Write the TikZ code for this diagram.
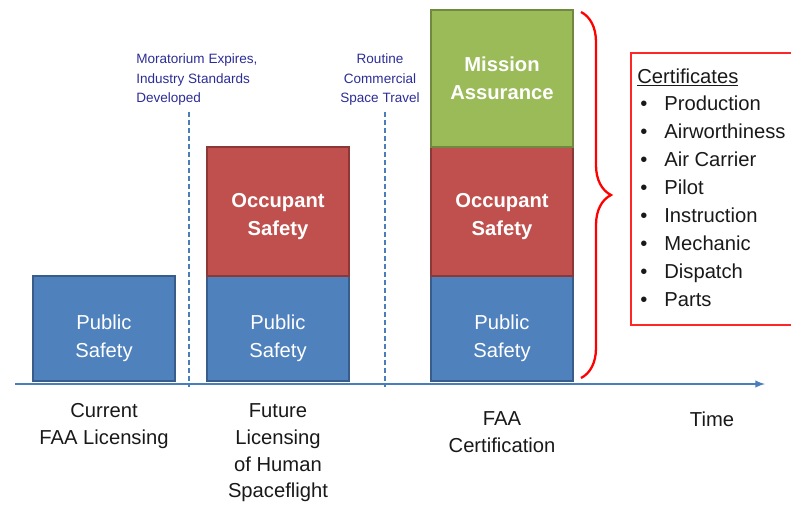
\documentclass[tikz,border=0pt]{standalone}
\usepackage{fontspec}
\setmainfont{Liberation Sans}
\usepackage{tikz}
\definecolor{pubblue}{RGB}{79,129,189}
\definecolor{pubblueline}{RGB}{56,93,138}
\definecolor{occred}{RGB}{192,80,77}
\definecolor{occredline}{RGB}{140,56,54}
\definecolor{misgreen}{RGB}{155,187,89}
\definecolor{misgreenline}{RGB}{113,137,63}
\definecolor{axisblue}{RGB}{74,126,187}
\definecolor{miletext}{RGB}{44,44,150}
\usetikzlibrary{positioning}
\usetikzlibrary{decorations.pathreplacing}
\newcommand{\bul}{\hspace*{0.06cm}\makebox[0.48cm][l]{\textbullet}}
\newcommand{\pubdrop}{\rule{0pt}{19.8pt}}
\newcommand{\occdrop}{\rule{0pt}{14.1pt}}

\begin{document}
\begin{tikzpicture}[x=0.02cm, y=-0.02cm,
				>=latex,   % Pfeilspitzen
				blk/.style={draw, line width=1.4pt, outer sep=0pt, minimum width=2.84cm, align=center, text=white, font=\fontsize{11.5}{15.9}\selectfont},
				pub/.style={blk, fill=pubblue, draw=pubblueline, minimum height=2.1cm},
				occ/.style={blk, fill=occred, draw=occredline, minimum height=2.58cm, font=\bfseries\fontsize{11.5}{15.9}\selectfont},
				mis/.style={blk, fill=misgreen, draw=misgreenline, minimum height=2.74cm, font=\bfseries\fontsize{11.5}{15.9}\selectfont},
				lbl/.style={inner sep=0pt, align=center, text=black!90, font=\fontsize{11.5}{15.3}\selectfont},
				mile/.style={inner sep=0pt, text=miletext, font=\fontsize{7.7}{11.3}\selectfont},
				milestone/.style={axisblue, line width=1.1pt, dash pattern=on 0.1cm off 0.06cm}]
				% Bildbereich
				\useasboundingbox (0,0) rectangle (791,505);
				% Zeitachse
				\coordinate (t0) at (15,384);
				\coordinate (t1) at (765,384);
				\draw[->, axisblue, line width=0.9pt] (t0) -- (t1);
				% Meilensteine
				\coordinate (d1top) at (189,112);
				\coordinate (d1bot) at (189,387);
				\coordinate (d2top) at (385,112);
				\coordinate (d2bot) at (385,387);
				\draw[milestone] (d1top) -- (d1bot);
				\draw[milestone] (d2top) -- (d2bot);
				\node[mile, anchor=north west, align=left] (mora) at (136,53) {Moratorium Expires,\\Industry Standards\\Developed};
				\node[mile, anchor=north, align=center] (routine) at (380,53) {Routine\\Commercial\\Space Travel};
				% Saeulen
				\node[pub] (pub1) at (104,328.5) {\pubdrop Public\\Safety};
				\node[pub] (pub2) at (278,328.5) {\pubdrop Public\\Safety};
				\node[occ, above=0pt of pub2] (occ2) {\occdrop Occupant\\Safety};
				\node[pub] (pub3) at (502,328.5) {\pubdrop Public\\Safety};
				\node[occ, above=0pt of pub3] (occ3) {\occdrop Occupant\\Safety};
				\node[mis, above=0pt of occ3] (mis3) {Mission\\Assurance};
				% Beschriftung unten
				\node[lbl, below=0.44cm of pub1] (curlbl) {Current\\FAA Licensing};
				\node[lbl, below=0.44cm of pub2] (futlbl) {Future\\Licensing\\of Human\\Spaceflight};
				\node[lbl, below=0.6cm of pub3] (certlbl) {FAA\\Certification};
				\node[lbl, anchor=north] (timelbl) at (712,411) {Time};
				% Klammer und Zertifikate
				\coordinate (br0) at (581,12);
				\coordinate (br1) at (581,378);
				\draw[red, line width=1.3pt, decorate, decoration={brace, amplitude=0.6cm}] (br0) -- (br1);
				\draw[red!85!white, line width=0.8pt] (631,53) rectangle (798,325);
				\node[lbl, anchor=north west, align=left, font=\fontsize{11.5}{15.9}\selectfont] (certlist) at (637,68)
					{\underline{Certificates}\\ \bul Production\\ \bul Airworthiness\\ \bul Air Carrier\\ \bul Pilot\\
					 \bul Instruction\\ \bul Mechanic\\ \bul Dispatch\\ \bul Parts};
			\end{tikzpicture}
\end{document}
